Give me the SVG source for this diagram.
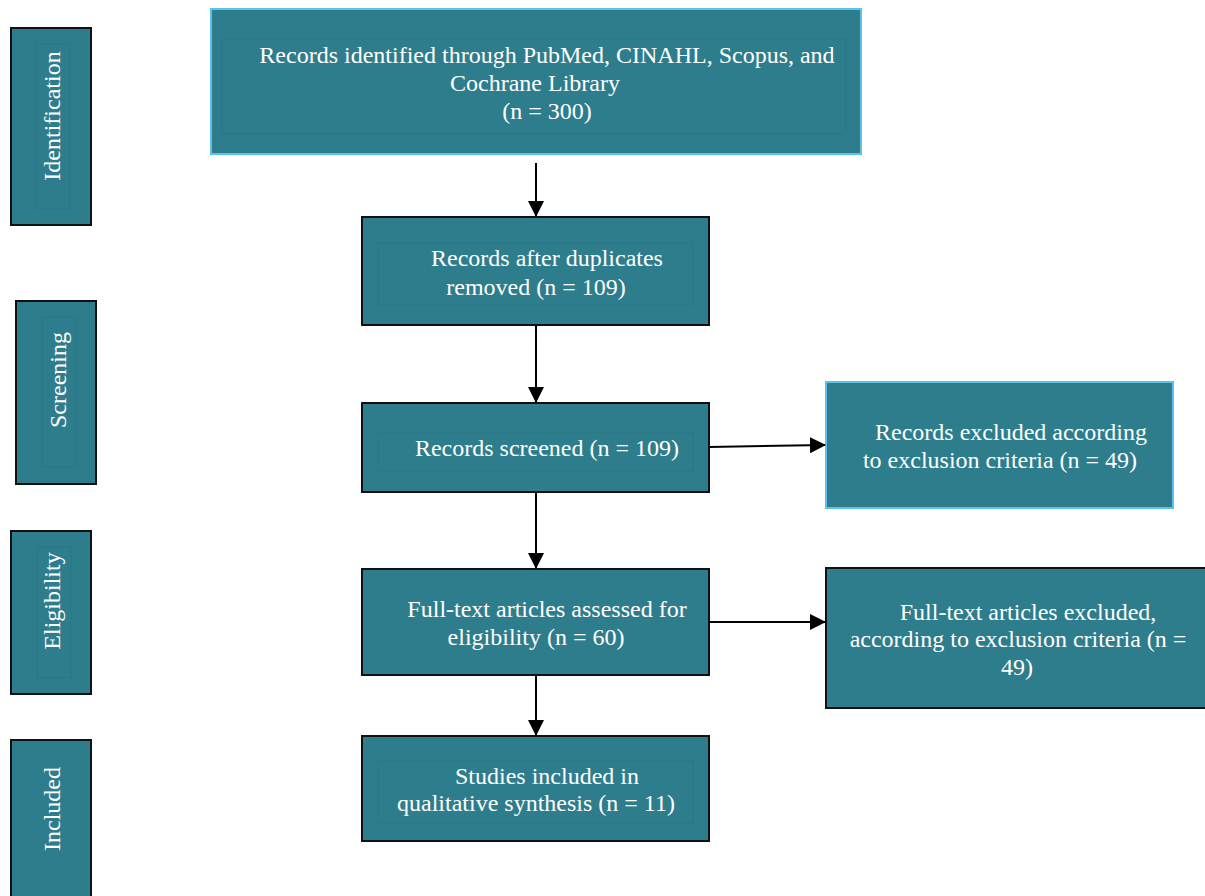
<svg xmlns="http://www.w3.org/2000/svg" width="1205" height="896" viewBox="0 0 1205 896">
<style>
.box{fill:#2E7D8C;stroke:#111;stroke-width:2}
.boxb{fill:#2E7D8C;stroke:#5BC3EA;stroke-width:2}
.inner{fill:none;stroke:#2B7886;stroke-width:1}
text{font-family:"Liberation Serif","Times New Roman",serif;font-size:24px;fill:#FFFFFF;text-anchor:middle}
.conn line{stroke:#000;stroke-width:2;marker-end:url(#ah)}
</style>
<defs>
<marker id="ah" markerWidth="16" markerHeight="16" refX="15" refY="8" orient="auto" markerUnits="userSpaceOnUse">
<path d="M0,0 L16,8 L0,16 Z" fill="#000"/>
</marker>
</defs>
<rect width="1205" height="896" fill="#fff"/>

<g id="stage-identification">
<rect class="box" x="11" y="28" width="80" height="197"/>
<rect class="inner" x="36" y="44" width="34" height="165"/>
<text transform="translate(60,116) rotate(-90)">Identification</text>
</g>
<g id="stage-screening">
<rect class="box" x="16" y="301" width="80" height="183"/>
<rect class="inner" x="42" y="317" width="34" height="150"/>
<text transform="translate(66,380) rotate(-90)">Screening</text>
</g>
<g id="stage-eligibility">
<rect class="box" x="11" y="531" width="80" height="163"/>
<rect class="inner" x="37" y="547" width="34" height="131"/>
<text transform="translate(60,601) rotate(-90)">Eligibility</text>
</g>
<g id="stage-included">
<rect class="box" x="11" y="740" width="80" height="170"/>
<text transform="translate(60,809) rotate(-90)">Included</text>
</g>

<g id="identified">
<rect class="boxb" x="211" y="9" width="650" height="145"/>
<rect class="inner" x="222" y="39" width="624" height="95"/>
<text x="547" y="63">Records identified through PubMed, CINAHL, Scopus, and</text>
<text x="535" y="91">Cochrane Library</text>
<text x="547" y="119">(n = 300)</text>
</g>
<g id="duplicates">
<rect class="box" x="362" y="217" width="347" height="108"/>
<rect class="inner" x="378" y="243" width="315" height="62"/>
<text x="547" y="266">Records after duplicates</text>
<text x="536" y="295">removed (n = 109)</text>
</g>
<g id="screened">
<rect class="box" x="362" y="403" width="347" height="89"/>
<rect class="inner" x="378" y="433" width="315" height="38"/>
<text x="547" y="456">Records screened (n = 109)</text>
</g>
<g id="excluded-records">
<rect class="boxb" x="826" y="382" width="347" height="126"/>
<text x="1011" y="440">Records excluded according</text>
<text x="1000" y="468">to exclusion criteria (n = 49)</text>
</g>
<g id="fulltext">
<rect class="box" x="362" y="569" width="347" height="106"/>
<text x="547" y="617">Full-text articles assessed for</text>
<text x="536" y="645">eligibility (n = 60)</text>
</g>
<g id="excluded-fulltext">
<rect class="box" x="826" y="568" width="390" height="140"/>
<text x="1028" y="620">Full-text articles excluded,</text>
<text x="1018" y="647">according to exclusion criteria (n =</text>
<text x="1017" y="675">49)</text>
</g>
<g id="included">
<rect class="box" x="362" y="736" width="347" height="105"/>
<rect class="inner" x="378" y="761" width="315" height="62"/>
<text x="547" y="784">Studies included in</text>
<text x="536" y="811">qualitative synthesis (n = 11)</text>
</g>

<g id="connectors" class="conn">
<line x1="536" y1="163" x2="536" y2="216"/>
<line x1="536" y1="325" x2="536" y2="402"/>
<line x1="709" y1="447" x2="825" y2="445"/>
<line x1="536" y1="492" x2="536" y2="568"/>
<line x1="709" y1="622" x2="825" y2="622"/>
<line x1="536" y1="675" x2="536" y2="735"/>
</g>
</svg>
